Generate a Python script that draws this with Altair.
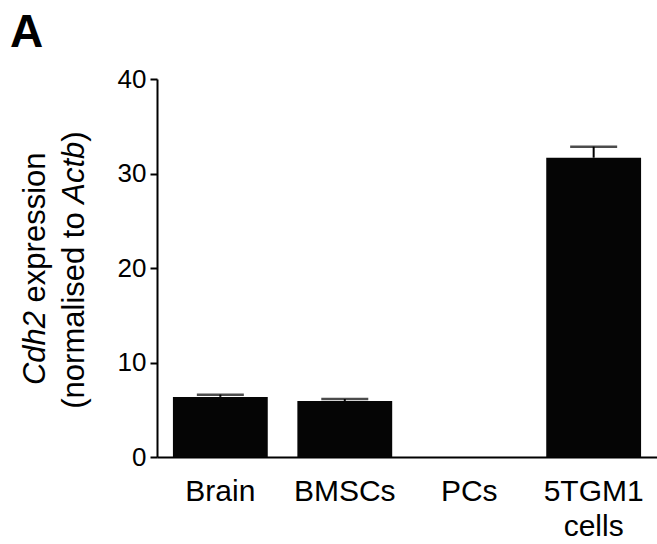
import altair as alt
import pandas as pd

# ---- data ----
categories = ["Brain", "BMSCs", "PCs", "5TGM1 cells"]
mean_values = [6.36, 5.93, 0.0, 31.67]
upper_values = [6.60, 6.14, 0.0, 32.84]

y_ticks = [0, 10, 20, 30, 40]

panel_letter = ["A"]
title_line1 = ["Cdh2", "expression"]          # italic, normal
title_line2 = ["(normalised to", "Actb", ")"]  # normal, italic, normal

FONT = "Liberation Sans"

df = pd.DataFrame({"cat": categories, "mean": mean_values, "upper": upper_values})

x_enc = alt.X(
    "cat:N",
    sort=categories,
    scale=alt.Scale(paddingInner=0.238, paddingOuter=0.128),
    axis=alt.Axis(
        title=None,
        labelAngle=0,
        ticks=False,
        labelPadding=19,
        labelFontSize=30,
        labelFont=FONT,
        labelColor="black",
        labelExpr="split(datum.label, ' ')",
        labelLineHeight=35,
        domainColor="black",
        domainWidth=2,
    ),
)

y_scale = alt.Scale(domain=[0, 40], nice=False)

bars = alt.Chart(df).mark_bar(color="#050505").encode(
    x=x_enc,
    y=alt.Y(
        "mean:Q",
        scale=y_scale,
        axis=alt.Axis(
            title=None,
            values=y_ticks,
            grid=False,
            tickSize=7,
            tickWidth=2,
            tickColor="black",
            domainColor="black",
            domainWidth=2,
            labelPadding=4,
            labelFontSize=26,
            labelFont=FONT,
            labelColor="black",
        ),
    ),
)

err = alt.Chart(df).transform_filter("datum.upper > datum.mean").mark_rule(
    color="black", strokeWidth=2
).encode(x=alt.X("cat:N", sort=categories), y=alt.Y("mean:Q", scale=y_scale), y2="upper:Q")

caps = alt.Chart(df).transform_filter("datum.upper > datum.mean").mark_tick(
    color="black", size=47, thickness=2.5
).encode(x=alt.X("cat:N", sort=categories), y=alt.Y("upper:Q", scale=y_scale))


def seg(text, x, y, align, italic=False, size=31, bold=False, angle=270):
    kw = dict(
        align=align,
        baseline="alphabetic",
        font=FONT,
        fontSize=size,
        color="black",
        angle=angle,
    )
    if italic:
        kw["fontStyle"] = "italic"
    if bold:
        kw["fontWeight"] = "bold"
    return (
        alt.Chart(pd.DataFrame({"t": [text]}))
        .mark_text(**kw)
        .encode(text="t:N", x=alt.value(x), y=alt.value(y))
    )


# y-axis title, line 1 (baseline at x = -112)
t1a = seg(title_line1[0], -112, 232, "right", italic=True)
t1b = seg(title_line1[1], -112, 223.4, "left")
# line 2 (baseline at x = -73)
t2a = seg(title_line2[0], -73, 329.7, "left")
t2b = seg(title_line2[1], -73, 124.7, "left", italic=True)
t2c = seg(title_line2[2], -73, 62.7, "left")

letter = seg(panel_letter[0], -147, -32, "left", size=46, bold=True, angle=0)

chart = (
    alt.layer(bars, err, caps, t1a, t1b, t2a, t2b, t2c, letter)
    .properties(
        width=500,
        height=378,
        autosize=alt.AutoSizeParams(type="none"),
        padding={"left": 157, "top": 79, "right": 0, "bottom": 87},
        background="white",
    )
    .configure_view(stroke=None)
)

chart.save("out.html", embed_options={"renderer": "svg", "actions": False})
